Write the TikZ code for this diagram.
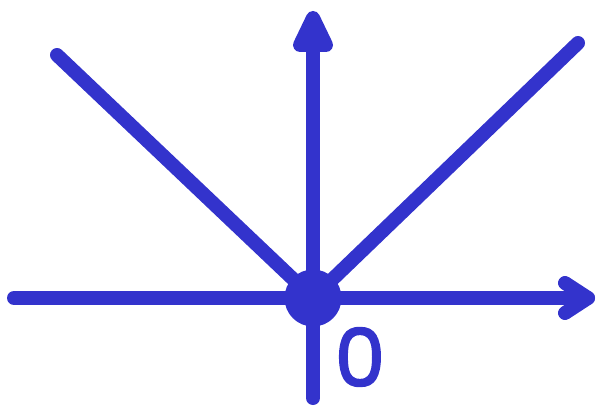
\documentclass[tikz,border=0pt]{standalone}
\usepackage{fontspec}
\newfontfamily\labelfont[FakeBold=2.2]{Poppins}
\definecolor{axisblue}{HTML}{3333CC}
\tikzset{
  axis/.style={draw=axisblue, line width=14pt, line cap=round, line join=round},
  headfill/.style={axis, fill=axisblue},
  dotnode/.style={circle, fill=axisblue, minimum size=57pt, inner sep=0pt},
  lbl/.style={text=axisblue, font=\labelfont\fontsize{80}{80}\selectfont, inner sep=0pt},
}
\begin{document}
\begin{tikzpicture}[x=1pt,y=-1pt]
\useasboundingbox (0,0) rectangle (596,406);
\coordinate (o) at (313,298);
\coordinate (left) at (14,298);
\coordinate (right) at (588,298);
\coordinate (top) at (313,18);
\coordinate (topbase) at (313,45);
\coordinate (topl) at (300,45);
\coordinate (topr) at (326,45);
\coordinate (rightu) at (565,283);
\coordinate (rightd) at (565,313);
\coordinate (bottom) at (313,398);
\coordinate (ul) at (57,55);
\coordinate (ur) at (578,43);
\draw[axis] (o) -- (ul);
\draw[axis] (o) -- (ur);
\draw[axis] (bottom) -- (topbase);
\draw[headfill] (top) -- (topr) -- (topl) -- cycle;
\draw[axis] (left) -- (right);
\draw[axis] (rightu) -- (right) -- (rightd);
\node[dotnode] (dot) at (o) {};
\node[lbl] (zero) at (360,357) {0};
\end{tikzpicture}
\end{document}
